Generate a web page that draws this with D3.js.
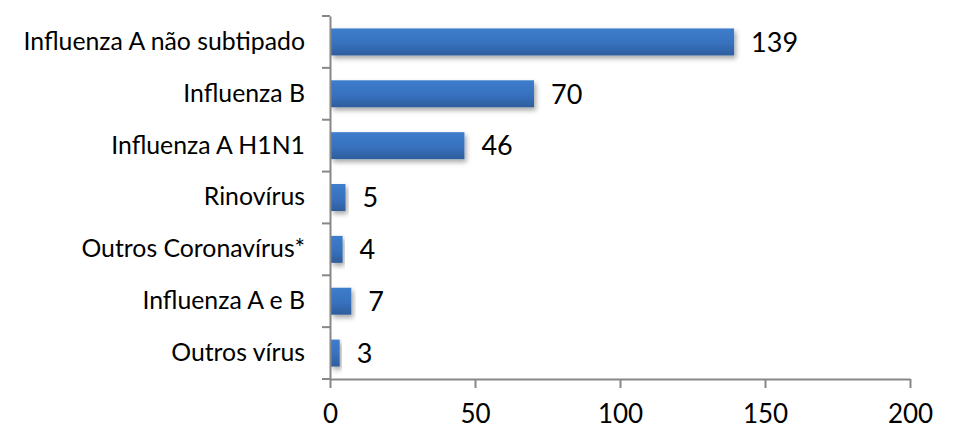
<!DOCTYPE html>
<html><head><meta charset="utf-8">
<script src="https://cdn.jsdelivr.net/npm/d3@7"></script>
<style>body{margin:0;background:#fff}svg{display:block}</style>
</head><body>
<script>
const categories = ["Influenza A não subtipado","Influenza B","Influenza A H1N1","Rinovírus","Outros Coronavírus*","Influenza A e B","Outros vírus"];
const values = [139,70,46,5,4,7,3];
const xTicks = [0,50,100,150,200];

const W=963,H=436;
const svg=d3.select("body").append("svg").attr("width",W).attr("height",H);
const defs=svg.append("defs");
const g=defs.append("linearGradient").attr("id","bg").attr("x1",0).attr("y1",0).attr("x2",0).attr("y2",1);
g.append("stop").attr("offset","0%").attr("stop-color","#3d7dcc");
g.append("stop").attr("offset","55%").attr("stop-color","#3771be");
g.append("stop").attr("offset","100%").attr("stop-color","#2e5d9c");
const f=defs.append("filter").attr("id","sh").attr("x","-10%").attr("y","-30%").attr("width","130%").attr("height","190%");
f.append("feDropShadow").attr("dx",2).attr("dy",3).attr("stdDeviation",2.5).attr("flood-color","#000").attr("flood-opacity",0.35);

const x=d3.scaleLinear().domain([0,200]).range([330,910]);
const y=d3.scaleBand().domain(categories).range([16,379]).paddingInner(0.48).paddingOuter(0.24);
const axisColor="#878787";
const font="Lato, 'Open Sans', sans-serif";

// bars
svg.append("g").selectAll("rect").data(values).join("rect")
  .attr("x",x(0)+1).attr("y",(d,i)=>y(categories[i]))
  .attr("width",d=>x(d)-x(0)).attr("height",y.bandwidth())
  .attr("fill","url(#bg)").attr("filter","url(#sh)");

// value labels
svg.append("g").selectAll("text").data(values).join("text")
  .attr("x",d=>x(d)+18).attr("y",(d,i)=>y(categories[i])+y.bandwidth()/2)
  .attr("dy","0.36em").attr("font-family",font).attr("font-size",27).attr("fill","#000")
  .text(d=>d);

// y axis
const ya=d3.scaleBand().domain(categories).range([16,379]);
const yAxis=svg.append("g").attr("transform","translate(330,0)")
  .call(d3.axisLeft(ya).tickSize(0).tickPadding(25));
yAxis.select(".domain").attr("stroke",axisColor).attr("stroke-width",2);
yAxis.selectAll("text").attr("font-family",font).attr("font-size",24.8).attr("fill","#000");
// category boundary ticks
const bounds=d3.range(categories.length+1).map(i=>16+i*ya.step());
svg.append("g").selectAll("line").data(bounds).join("line")
  .attr("x1",322).attr("x2",330).attr("y1",d=>d).attr("y2",d=>d)
  .attr("stroke",axisColor).attr("stroke-width",2);

// x axis
const xAxis=svg.append("g").attr("transform","translate(0,379)")
  .call(d3.axisBottom(x).tickValues(xTicks).tickSize(9).tickSizeOuter(0).tickPadding(17));
xAxis.select(".domain").attr("stroke",axisColor).attr("stroke-width",2);
xAxis.selectAll(".tick line").attr("stroke",axisColor).attr("stroke-width",2);
xAxis.selectAll("text").attr("font-family",font).attr("font-size",26).attr("fill","#000");
</script>
</body></html>
